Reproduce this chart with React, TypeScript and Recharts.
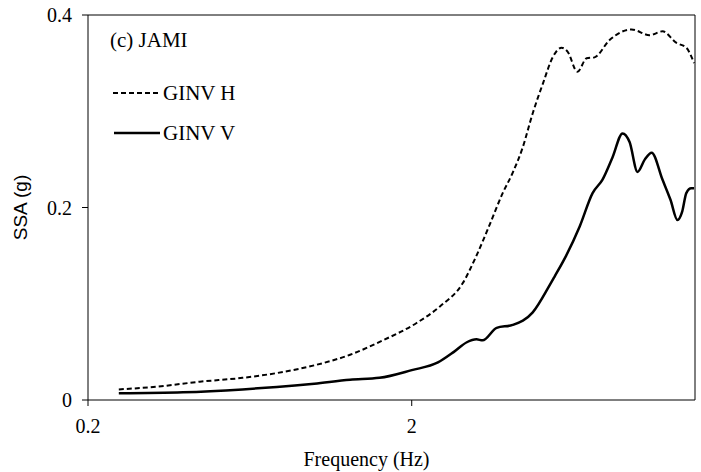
import React from 'react';
import {
  LineChart,
  Line,
  XAxis,
  YAxis,
  ReferenceLine,
} from 'recharts';

// GINV H (dashed)
const hFreq = [0.249, 0.33, 0.443, 0.6, 0.766, 1.0, 1.29, 1.63, 2.07, 2.44, 2.87, 3.17, 3.48, 3.82, 4.1, 4.4, 4.73, 5.1, 5.45, 5.81, 6.06, 6.5, 6.94, 7.34, 8.17, 9.55, 10.86, 11.9, 13.15, 14.1, 14.9];
const hSsa = [0.011, 0.014, 0.019, 0.023, 0.028, 0.036, 0.047, 0.062, 0.08, 0.097, 0.121, 0.15, 0.182, 0.215, 0.236, 0.262, 0.298, 0.33, 0.356, 0.366, 0.362, 0.341, 0.355, 0.356, 0.374, 0.385, 0.379, 0.383, 0.371, 0.366, 0.35];

// GINV V (solid)
const vFreq = [0.249, 0.393, 0.6, 0.766, 1.0, 1.29, 1.59, 2.0, 2.41, 2.7, 2.96, 3.17, 3.31, 3.66, 4.1, 4.73, 5.33, 5.52, 6.0, 6.6, 7.24, 7.77, 8.34, 8.96, 9.42, 9.97, 10.5, 11.02, 11.9, 12.6, 13.24, 13.7, 14.1, 14.6, 14.9];
const vSsa = [0.007, 0.008, 0.011, 0.0135, 0.017, 0.021, 0.023, 0.031, 0.039, 0.05, 0.06, 0.063, 0.062, 0.075, 0.078, 0.091, 0.119, 0.128, 0.15, 0.18, 0.215, 0.229, 0.252, 0.277, 0.268, 0.237, 0.25, 0.257, 0.229, 0.208, 0.187, 0.196, 0.215, 0.22, 0.22];

const xTicks = [0.2, 2];
const yTicks = [0, 0.2, 0.4];

const hData = hFreq.map((f, i) => ({ f, v: hSsa[i] }));
const vData = vFreq.map((f, i) => ({ f, v: vSsa[i] }));

const serif = '"Liberation Serif", "Times New Roman", serif';
const sans = '"Liberation Sans", Arial, sans-serif';

// legend drawn over the plot, top left like the original
const LegendBox = () => (
  <div
    style={{
      position: 'absolute',
      left: 110,
      top: 27,
      fontFamily: serif,
      fontSize: 21,
      color: '#000',
      lineHeight: '26px',
    }}
  >
    <div style={{ marginBottom: 27 }}>(c) JAMI</div>
    <div style={{ display: 'flex', alignItems: 'center', marginBottom: 14 }}>
      <svg width={48} height={6} style={{ marginLeft: 3 }}>
        <line x1={0} y1={3} x2={48} y2={3} stroke="#000" strokeWidth={2} strokeDasharray="5 3" />
      </svg>
      <span style={{ marginLeft: 2 }}>GINV H</span>
    </div>
    <div style={{ display: 'flex', alignItems: 'center' }}>
      <svg width={46} height={6} style={{ marginLeft: 4 }}>
        <line x1={0} y1={3} x2={46} y2={3} stroke="#000" strokeWidth={2.5} />
      </svg>
      <span style={{ marginLeft: 3 }}>GINV V</span>
    </div>
  </div>
);

const App: React.FC = () => {
  return (
    <div style={{ position: 'absolute', left: 0, top: 0, width: 701, height: 472, background: '#fff' }}>
      <LineChart
        width={701}
        height={472}
        margin={{ top: 15, right: 6, bottom: 0, left: 0 }}
      >
        <XAxis
          dataKey="f"
          type="number"
          scale="log"
          domain={[0.2, 15]}
          ticks={xTicks}
          allowDataOverflow
          height={72}
          stroke="#000"
          tickSize={6}
          tick={{ fill: '#000', fontSize: 20, fontFamily: serif, dy: 11 }}
          label={{
            value: 'Frequency (Hz)',
            position: 'insideBottom',
            offset: 6,
            dx: -25,
            style: { fill: '#000', fontSize: 20, fontFamily: serif },
          }}
        />
        <YAxis
          type="number"
          domain={[0, 0.4]}
          ticks={yTicks}
          width={88}
          stroke="#000"
          tickSize={6}
          tickFormatter={(v: number) => (v === 0 ? '0' : String(v))}
          tick={{ fill: '#000', fontSize: 20, fontFamily: serif, dx: -8 }}
          label={{
            value: 'SSA (g)',
            angle: -90,
            position: 'insideLeft',
            offset: 20,
            style: { fill: '#000', fontSize: 19, fontFamily: sans, textAnchor: 'middle' },
          }}
        />
        <ReferenceLine y={0.4} stroke="#000" strokeWidth={1} />
        <ReferenceLine x={15} stroke="#000" strokeWidth={1} />
        <Line
          data={hData}
          dataKey="v"
          name="GINV H"
          type="monotone"
          stroke="#000"
          strokeWidth={2}
          strokeDasharray="5 3"
          dot={false}
          isAnimationActive={false}
        />
        <Line
          data={vData}
          dataKey="v"
          name="GINV V"
          type="monotone"
          stroke="#000"
          strokeWidth={2.5}
          dot={false}
          isAnimationActive={false}
        />
      </LineChart>
      <LegendBox />
    </div>
  );
};

export default App;
